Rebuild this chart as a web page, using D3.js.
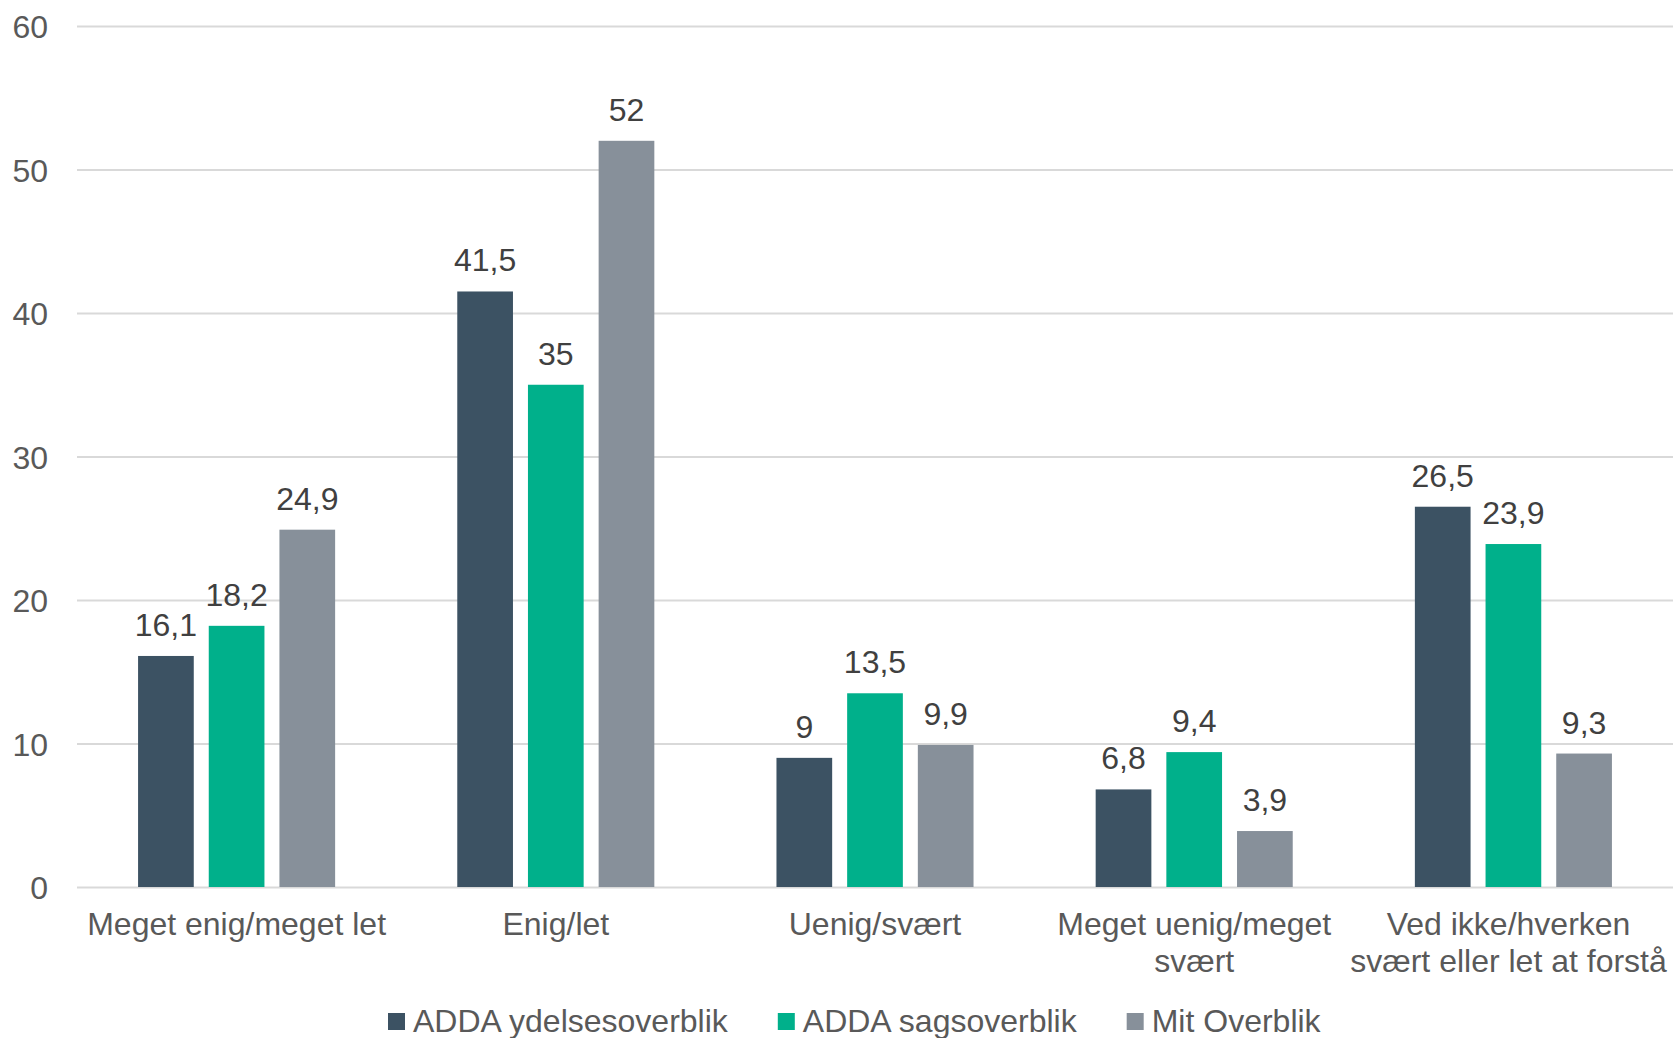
<!DOCTYPE html>
<html>
<head>
<meta charset="utf-8">
<script src="https://cdn.jsdelivr.net/npm/d3@7"></script>
<style>
  html, body { margin: 0; padding: 0; background: #ffffff; }
  svg { display: block; font-family: "Liberation Sans", Arial, Helvetica, sans-serif; }
</style>
</head>
<body>
<svg id="chart" width="1673" height="1038"></svg>
<script>
// Answer categories (line breaks mark where the axis label wraps)
const categories = [
  "Meget enig/meget let",
  "Enig/let",
  "Uenig/svært",
  "Meget uenig/meget\nsvært",
  "Ved ikke/hverken\nsvært eller let at forstå"
];

// Series names shown in the legend
const seriesNames = ["ADDA ydelsesoverblik", "ADDA sagsoverblik", "Mit Overblik"];

// Percentages per series, in category order
const addaYdelse = [16.1, 41.5, 9, 6.8, 26.5];
const addaSag    = [18.2, 35, 13.5, 9.4, 23.9];
const mitOverblik = [24.9, 52, 9.9, 3.9, 9.3];

const yTicks = [0, 10, 20, 30, 40, 50, 60];

const seriesColors = ["#3c5263", "#00b08b", "#87909a"];

const seriesValues = [addaYdelse, addaSag, mitOverblik];

const svg = d3.select("#chart");
const W = 1673;
const plot = { left: 77, right: 1673, top: 26, bottom: 887 };
const FS = 32;

const y = d3.scaleLinear().domain([0, 60]).range([plot.bottom, plot.top]);
const x0 = d3.scaleBand().domain(d3.range(categories.length))
  .range([plot.left, plot.right]).paddingInner(0).paddingOuter(0);
const x1 = d3.scaleBand().domain(d3.range(seriesNames.length))
  .range([0, x0.bandwidth()]).paddingInner(0.212).paddingOuter(0.864);

const fmt = v => String(v).replace(".", ",");

// Gridlines and value axis
const yAxis = svg.append("g")
  .attr("transform", `translate(${plot.left},0)`)
  .call(d3.axisLeft(y).tickValues(yTicks).tickSize(-(plot.right - plot.left)).tickPadding(29));
yAxis.select(".domain").remove();
yAxis.selectAll(".tick line").attr("stroke", "#d9d9d9").attr("stroke-width", 2);
yAxis.selectAll(".tick text")
  .attr("fill", "#595959").attr("font-size", FS)
  .attr("font-family", "'Liberation Sans', Arial, sans-serif")
  .attr("dy", "0.36em");

// Bars
const groups = svg.append("g").selectAll("g")
  .data(categories.map((c, i) => i))
  .join("g")
  .attr("transform", i => `translate(${x0(i)},0)`);

groups.selectAll("rect")
  .data(i => seriesValues.map((vals, s) => ({ s, v: vals[i] })))
  .join("rect")
  .attr("x", d => x1(d.s))
  .attr("width", x1.bandwidth())
  .attr("y", d => y(d.v))
  .attr("height", d => y(0) - y(d.v))
  .attr("fill", d => seriesColors[d.s]);

// Value labels
groups.selectAll("text.val")
  .data(i => seriesValues.map((vals, s) => ({ s, v: vals[i] })))
  .join("text")
  .attr("class", "val")
  .attr("x", d => x1(d.s) + x1.bandwidth() / 2)
  .attr("y", d => y(d.v) - 20)
  .attr("text-anchor", "middle")
  .attr("fill", "#404040")
  .attr("font-size", FS)
  .text(d => fmt(d.v));

// Category axis
const xAxis = svg.append("g")
  .attr("transform", `translate(0,${plot.bottom})`)
  .call(d3.axisBottom(x0).tickSize(0).tickFormat(""));
xAxis.select(".domain").remove();
xAxis.selectAll(".tick text").remove();
xAxis.selectAll(".tick").each(function (i) {
  const lines = categories[i].split("\n");
  const t = d3.select(this).append("text")
    .attr("text-anchor", "middle")
    .attr("fill", "#595959")
    .attr("font-size", FS)
    .attr("font-family", "'Liberation Sans', Arial, sans-serif");
  lines.forEach((ln, k) => {
    t.append("tspan").attr("x", 0).attr("y", 48 + k * 36.7).text(ln);
  });
  // keep a wide label inside the drawing area
  const box = this.getBBox();
  const tx = x0(i) + x0.bandwidth() / 2;
  const overflow = tx + box.x + box.width - (W - 6);
  if (overflow > 0) t.attr("transform", `translate(${-overflow},0)`);
});

// Legend
const legend = svg.append("g").attr("transform", "translate(388,0)");
let lx = 0;
seriesNames.forEach((name, s) => {
  legend.append("rect")
    .attr("x", lx).attr("y", 1013).attr("width", 17).attr("height", 17)
    .attr("fill", seriesColors[s]);
  const t = legend.append("text")
    .attr("x", lx + 25).attr("y", 1031.5)
    .attr("fill", "#595959").attr("font-size", FS)
    .text(name);
  lx += 25 + t.node().getComputedTextLength() + 50;
});
</script>
</body>
</html>
